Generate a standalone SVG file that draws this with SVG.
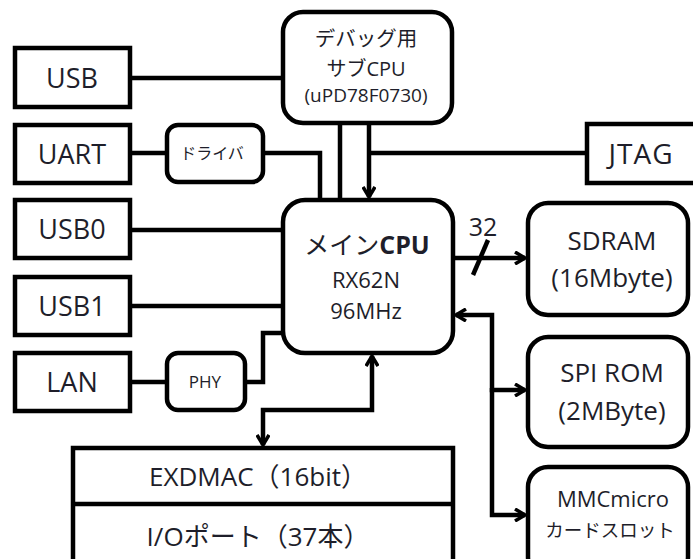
<svg xmlns="http://www.w3.org/2000/svg" width="693" height="559" viewBox="0 0 693 559">
<style>
.box{fill:#fff;stroke:#000;stroke-width:4.5}
.ln{fill:none;stroke:#000;stroke-width:4.5}
text{font-family:"Open Sans","Noto Sans CJK JP",sans-serif;fill:#1e1e2a;text-anchor:middle}
.big{font-size:27px}
.mid{font-size:25px}
.sm{font-size:22px}
.xs{font-size:17px}
.jp{font-family:"Noto Sans CJK JP",sans-serif}
</style>
<defs>
<marker id="ah" viewBox="0 0 12 14" refX="11" refY="7" markerWidth="12" markerHeight="14" markerUnits="userSpaceOnUse" orient="auto-start-reverse">
<path d="M1,1 L11,7 L1,13" fill="none" stroke="#000" stroke-width="3.5"/>
</marker>
</defs>
<g id="connectors">
<line class="ln" x1="130" y1="78" x2="283" y2="78"/>
<line class="ln" x1="130" y1="153" x2="167" y2="153"/>
<polyline class="ln" points="263,153 320,153 320,200"/>
<line class="ln" x1="340" y1="123" x2="340" y2="200"/>
<line class="ln" x1="369" y1="123" x2="369" y2="197" marker-end="url(#ah)"/>
<line class="ln" x1="369" y1="153" x2="587" y2="153"/>
<line class="ln" x1="130" y1="230" x2="283" y2="230"/>
<line class="ln" x1="130" y1="306" x2="283" y2="306"/>
<line class="ln" x1="130" y1="382" x2="167" y2="382"/>
<polyline class="ln" points="245,382 263,382 263,333 283,333"/>
<polyline class="ln" points="372,356 372,410 263,410 263,445" marker-start="url(#ah)" marker-end="url(#ah)"/>
<line class="ln" x1="453" y1="258" x2="525" y2="258" marker-end="url(#ah)"/>
<line class="ln" x1="473" y1="275" x2="488" y2="240"/>
<polyline class="ln" points="456,315 492,315 492,390 525,390" marker-start="url(#ah)" marker-end="url(#ah)"/>
<polyline class="ln" points="492,388 492,515 525,515" marker-end="url(#ah)"/>
<text x="483" y="236" class="mid">32</text>
</g>
<g id="usb"><rect class="box" x="15" y="48" width="115" height="59"/><text x="72" y="88" class="big">USB</text></g>
<g id="uart"><rect class="box" x="15" y="125" width="115" height="58"/><text x="72" y="164" class="big">UART</text></g>
<g id="usb0"><rect class="box" x="15" y="200" width="115" height="58"/><text x="72" y="239" class="big">USB0</text></g>
<g id="usb1"><rect class="box" x="15" y="277" width="115" height="58"/><text x="72" y="316" class="big">USB1</text></g>
<g id="lan"><rect class="box" x="15" y="353" width="115" height="58"/><text x="72" y="392" class="big">LAN</text></g>
<g id="driver"><rect class="box" x="167" y="125" width="96" height="57" rx="11"/><text x="212" y="159" class="jp" style="font-size:16px">ドライバ</text></g>
<g id="phy"><rect class="box" x="167" y="353" width="78" height="57" rx="11"/><text x="205" y="388" class="xs">PHY</text></g>
<g id="subcpu"><rect class="box" x="283" y="12" width="169" height="111" rx="20"/>
<text x="366" y="46" class="jp" style="font-size:20.5px">デバッグ用</text>
<text x="366" y="76" style="font-size:20px"><tspan class="jp">サブ</tspan>CPU</text>
<text x="366" y="102" style="font-size:19px">(uPD78F0730)</text></g>
<g id="jtag"><rect class="box" x="587" y="124" width="110" height="59"/><text x="641" y="164" style="font-size:28px;letter-spacing:1px">JTAG</text></g>
<g id="maincpu"><rect class="box" x="283" y="200" width="170" height="153" rx="22"/>
<text x="367" y="254" style="font-size:25px"><tspan class="jp">メイン</tspan><tspan font-weight="bold">CPU</tspan></text>
<text x="366" y="288" class="sm">RX62N</text>
<text x="366" y="319" class="sm">96MHz</text></g>
<g id="sdram"><rect class="box" x="528" y="203" width="160" height="112" rx="20"/>
<text x="612" y="250" style="font-size:26px">SDRAM</text><text x="612" y="287" style="font-size:26px">(16Mbyte)</text></g>
<g id="spirom"><rect class="box" x="528" y="337" width="160" height="110" rx="20"/>
<text x="612" y="382" style="font-size:26px">SPI ROM</text><text x="612" y="420" style="font-size:26px">(2MByte)</text></g>
<g id="mmc"><rect class="box" x="528" y="467" width="160" height="110" rx="20"/>
<text x="613" y="507" style="font-size:22px">MMCmicro</text><text x="610" y="537" class="jp" style="font-size:18.5px">カードスロット</text></g>
<g id="exdmac"><rect class="box" x="73" y="448" width="380" height="130"/>
<line class="ln" x1="73" y1="504" x2="453" y2="504"/>
<text x="258" y="486" style="font-size:26px">EXDMAC<tspan class="jp">（</tspan>16bit<tspan class="jp">）</tspan></text>
<text x="258" y="546" style="font-size:26px">I/O<tspan class="jp">ポート（</tspan>37<tspan class="jp">本）</tspan></text></g>
</svg>
